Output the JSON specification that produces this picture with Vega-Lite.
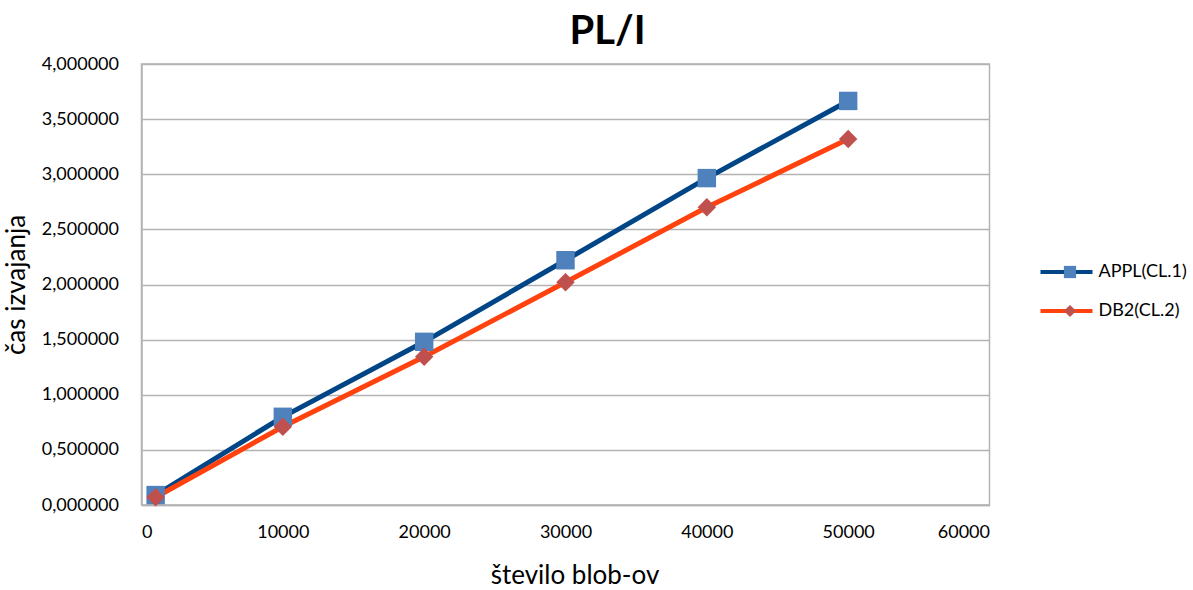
{
  "$schema": "https://vega.github.io/schema/vega-lite/v6.json",
  "width": 848,
  "height": 441,
  "autosize": {"type": "none"},
  "padding": {"left": 141.5, "top": 64, "right": 203.5, "bottom": 85},
  "background": "white",
  "config": {
    "font": "Lato",
    "view": {"stroke": "#b3b3b3", "strokeWidth": 1.5},
    "axis": {
      "labelFont": "Lato",
      "titleFont": "Lato",
      "labelFontSize": 18,
      "titleFontSize": 26,
      "labelColor": "#000000",
      "titleColor": "#000000",
      "titleFontWeight": "normal",
      "ticks": false,
      "domainColor": "#b3b3b3",
      "domainWidth": 1.5,
      "gridColor": "#b3b3b3",
      "gridWidth": 1.5
    },
    "legend": {"labelFont": "Lato", "labelFontSize": 18, "labelColor": "#000000"}
  },
  "title": {
    "text": "PL/I",
    "font": "Lato",
    "fontSize": 40,
    "fontWeight": "bold",
    "color": "#000000",
    "anchor": "middle",
    "frame": "group",
    "dx": 42,
    "offset": 3
  },
  "data": {
    "values": [
      {"blobs": 1000, "cas": 0.09, "series": "APPL(CL.1)"},
      {"blobs": 10000, "cas": 0.8, "series": "APPL(CL.1)"},
      {"blobs": 20000, "cas": 1.48, "series": "APPL(CL.1)"},
      {"blobs": 30000, "cas": 2.22, "series": "APPL(CL.1)"},
      {"blobs": 40000, "cas": 2.965, "series": "APPL(CL.1)"},
      {"blobs": 50000, "cas": 3.665, "series": "APPL(CL.1)"},
      {"blobs": 1000, "cas": 0.07, "series": "DB2(CL.2)"},
      {"blobs": 10000, "cas": 0.71, "series": "DB2(CL.2)"},
      {"blobs": 20000, "cas": 1.345, "series": "DB2(CL.2)"},
      {"blobs": 30000, "cas": 2.02, "series": "DB2(CL.2)"},
      {"blobs": 40000, "cas": 2.7, "series": "DB2(CL.2)"},
      {"blobs": 50000, "cas": 3.32, "series": "DB2(CL.2)"}
    ]
  },
  "encoding": {
    "x": {
      "field": "blobs",
      "type": "quantitative",
      "scale": {"domain": [0, 60000], "nice": false, "zero": false},
      "axis": {
        "title": "število blob-ov",
        "values": [0, 10000, 20000, 30000, 40000, 50000, 60000],
        "format": "d",
        "grid": false,
        "labelPadding": 18,
        "titlePadding": 21,
        "titleX": 433
      }
    },
    "y": {
      "field": "cas",
      "type": "quantitative",
      "scale": {"domain": [0, 4], "nice": false},
      "axis": {
        "title": "čas izvajanja",
        "values": [0, 0.5, 1, 1.5, 2, 2.5, 3, 3.5, 4],
        "labelExpr": "replace(format(datum.value, '.6f'), '.', ',')",
        "labelPadding": 23,
        "titlePadding": 12
      }
    }
  },
  "layer": [
    {
      "mark": {"type": "line", "strokeWidth": 5},
      "encoding": {
        "stroke": {
          "field": "series",
          "type": "nominal",
          "scale": {"domain": ["APPL(CL.1)", "DB2(CL.2)"], "range": ["#004586", "#FF420E"]},
          "legend": {
            "title": null,
            "orient": "none",
            "legendX": 897,
            "legendY": 180,
            "symbolType": "stroke",
            "symbolSize": 2704,
            "symbolStrokeWidth": 4,
            "labelOffset": 4
          }
        }
      }
    },
    {
      "mark": {"type": "point", "filled": true, "opacity": 1, "size": 340},
      "encoding": {
        "fill": {
          "field": "series",
          "type": "nominal",
          "scale": {"range": ["#4F81BD", "#C0504D"]},
          "legend": {
            "title": null,
            "orient": "none",
            "legendX": 919.5,
            "legendY": 199,
            "symbolSize": 150,
            "symbolOpacity": 1,
            "rowPadding": 19,
            "labelColor": "transparent"
          }
        },
        "shape": {
          "field": "series",
          "type": "nominal",
          "scale": {"range": ["square", "diamond"]}
        }
      }
    }
  ]
}
